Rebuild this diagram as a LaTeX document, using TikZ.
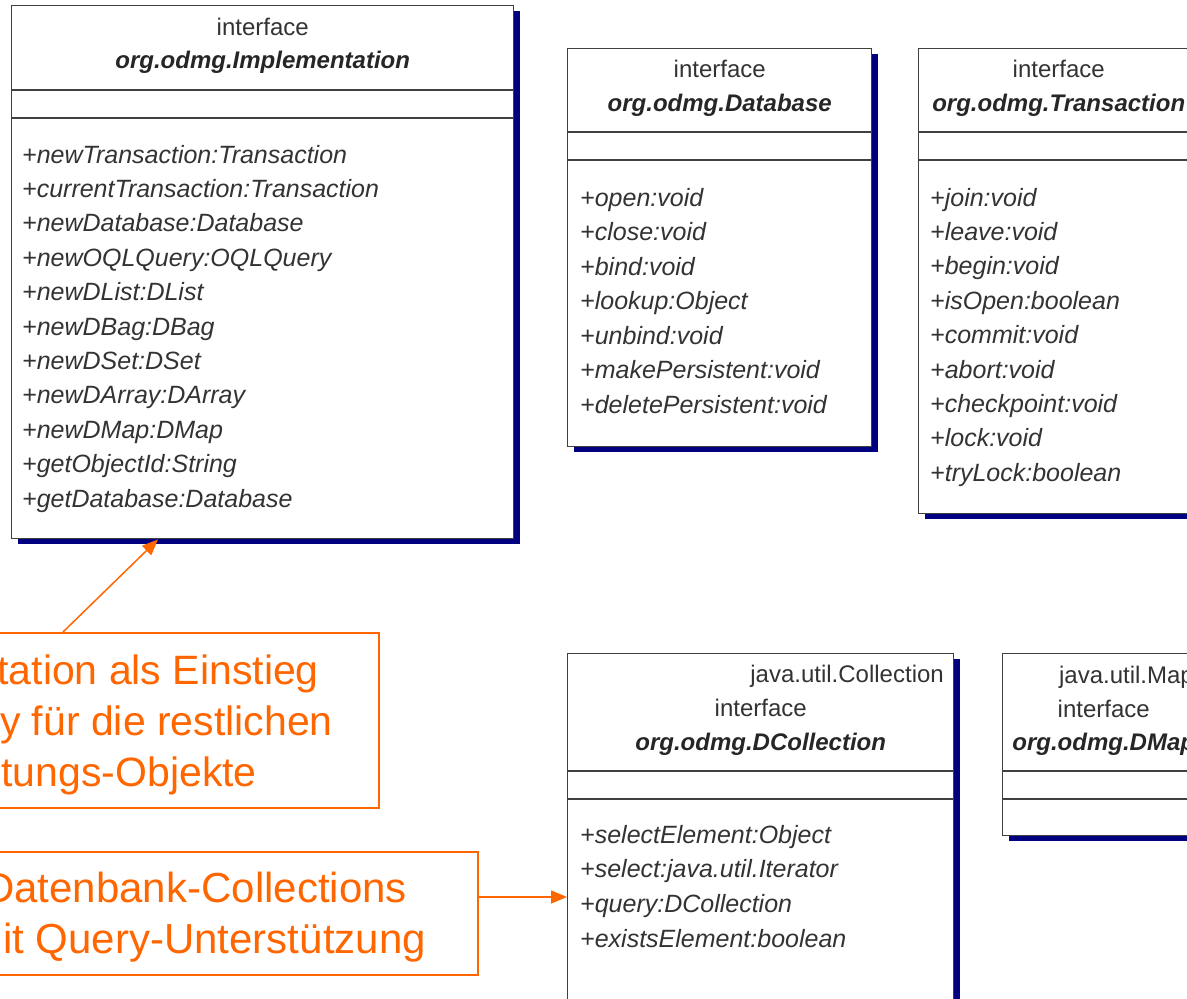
\documentclass[tikz,border=0pt]{standalone}
\usepackage{fontspec}
\setmainfont{Liberation Sans}
\usetikzlibrary{arrows.meta, shadows, positioning}
\definecolor{umlgray}{RGB}{64,64,64}
\definecolor{umlnavy}{RGB}{0,0,128}
\definecolor{umltext}{RGB}{51,51,51}
\definecolor{noteorange}{RGB}{255,102,0}

\begin{document}
\begin{tikzpicture}[x=1pt, y=-1pt,
    umlbox/.style={draw=umlgray, line width=1.4pt, fill=white, inner sep=0pt, anchor=north west,
      general shadow={fill=umlnavy, shadow xshift=6pt, shadow yshift=-5pt}},
    umlline/.style={draw=umlgray, line width=1.4pt},
    umlkw/.style={font=\fontsize{24}{24}\selectfont, text=umltext, inner sep=0pt, anchor=base},
    umlname/.style={font=\fontsize{24}{24}\selectfont\bfseries\itshape, text=black!85, inner sep=0pt, anchor=base},
    member/.style={font=\fontsize{25}{25}\selectfont\itshape, text=umltext, inner sep=0pt, anchor=base west},
    notebox/.style={draw=noteorange, line width=1.5pt, inner sep=0pt, anchor=north west},
    notetext/.style={font=\fontsize{41}{41}\selectfont, text=noteorange, inner sep=0pt, anchor=base east},
    notearrow/.style={draw=noteorange, line width=1.5pt, -{Triangle[length=16pt,width=13pt]}}]
  \useasboundingbox (0,0) rectangle (1187,999);
  \clip (0,0) rectangle (1187,999);

  % class boxes
  \node[umlbox, minimum width=502pt, minimum height=533pt] (impl) at (11,5) {};
  \node[umlbox, minimum width=304pt, minimum height=398pt] (db) at (567,48) {};
  \node[umlbox, minimum width=280pt, minimum height=465pt] (tx) at (918,48) {};
  \node[umlbox, minimum width=386pt, minimum height=400pt] (dcoll) at (567,653) {};
  \node[umlbox, minimum width=202pt, minimum height=182pt] (dmap) at (1002,653) {};

  % compartments
  \foreach \b/\ya/\yb in {impl/90/118, db/132/160, tx/132/160, dcoll/771/799, dmap/771/799}
    \draw[umlline] (\b.west |- 0,\ya) -- (\b.east |- 0,\ya) (\b.west |- 0,\yb) -- (\b.east |- 0,\yb);

  % headers
  \node[umlkw] (impl-kw) at (impl.north |- 0,35) {interface};
  \node[umlname] (impl-name) at (impl.north |- 0,68) {org.odmg.Implementation};
  \node[umlkw] (db-kw) at (db.north |- 0,77) {interface};
  \node[umlname] (db-name) at (db.north |- 0,111) {org.odmg.Database};
  \node[umlkw] (tx-kw) at (tx.north |- 0,77) {interface};
  \node[umlname] (tx-name) at (tx.north |- 0,111) {org.odmg.Transaction};
  \node[umlkw, anchor=base east] (dcoll-st) at (944,682) {java.util.Collection};
  \node[umlkw] (dcoll-kw) at (dcoll.north |- 0,716) {interface};
  \node[umlname] (dcoll-name) at (dcoll.north |- 0,750) {org.odmg.DCollection};
  \node[umlkw, anchor=base east] (dmap-st) at (1194,683) {java.util.Map};
  \node[umlkw] (dmap-kw) at (dmap.north |- 0,717) {interface};
  \node[umlname] (dmap-name) at (dmap.north |- 0,750) {org.odmg.DMap};

  % operations
  \foreach \m [count=\i] in {newTransaction:Transaction, currentTransaction:Transaction,
      newDatabase:Database, newOQLQuery:OQLQuery, newDList:DList, newDBag:DBag, newDSet:DSet,
      newDArray:DArray, newDMap:DMap, getObjectId:String, getDatabase:Database}
    \node[member] (impl-m\i) at (22, {163+34.4*(\i-1)}) {+\m};
  \foreach \m [count=\i] in {open:void, close:void, bind:void, lookup:Object, unbind:void,
      makePersistent:void, deletePersistent:void}
    \node[member] (db-m\i) at (580, {206+34.5*(\i-1)}) {+\m};
  \foreach \m [count=\i] in {join:void, leave:void, begin:void, isOpen:boolean, commit:void,
      abort:void, checkpoint:void, lock:void, tryLock:boolean}
    \node[member] (tx-m\i) at (930, {206+34.4*(\i-1)}) {+\m};
  \foreach \m [count=\i] in {selectElement:Object, select:java.util.Iterator, query:DCollection,
      existsElement:boolean}
    \node[member] (dcoll-m\i) at (580, {843+34.8*(\i-1)}) {+\m};

  % notes
  \node[notebox, minimum width=392pt, minimum height=175pt] (note1) at (-14,632) {};
  \node[notetext] (note1-a) at (319,684) {tation als Einstieg};
  \node[notetext] (note1-b) at (333,735) {y für die restlichen};
  \node[notetext] (note1-c) at (257,786) {tungs-Objekte};
  \node[notebox, minimum width=491pt, minimum height=123pt] (note2) at (-14,851) {};
  \node[notetext, font=\fontsize{42}{42}\selectfont] (note2-a) at (407,902) {Datenbank-Collections};
  \node[notetext, font=\fontsize{42}{42}\selectfont] (note2-b) at (426,953) {it Query-Unterstützung};

  \draw[notearrow] (note1.north -| 63,0) -- (impl.south -| 158,0);
  \draw[notearrow] (note2.east |- 0,897) -- (dcoll.west |- 0,897);
\end{tikzpicture}
\end{document}
